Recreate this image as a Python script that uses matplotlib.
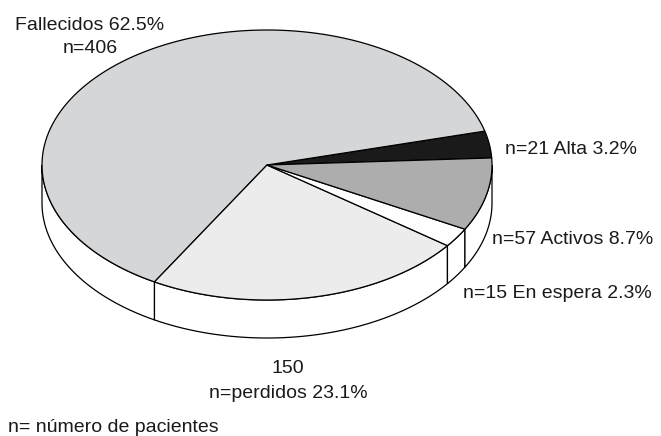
import numpy as np
import matplotlib.pyplot as plt
from matplotlib.patches import Polygon

plt.rcParams['font.family'] = ['Liberation Sans', 'DejaVu Sans']

# data
labels = ['Alta', 'Fallecidos', 'perdidos', 'En espera', 'Activos']
counts = [21, 406, 150, 15, 57]
percents = [3.2, 62.5, 23.1, 2.3, 8.7]
colors = ['#1a1a1a', '#d5d6d8', '#ececec', '#ffffff', '#adadad']

# ellipse geometry in pixel coordinates
CX, CY = 267, 165
RX, RY = 225, 135
DEPTH = 38
START = 3.0  # degrees, boundary Activos / Alta, counter-clockwise order


def arc(a0, a1, dy=0, n=120):
    t = np.radians(np.linspace(a0, a1, n))
    return np.column_stack([CX + RX * np.cos(t), CY - RY * np.sin(t) + dy])


fig = plt.figure(figsize=(6.61, 4.36), dpi=100)
ax = fig.add_axes([0, 0, 1, 1])
ax.set_xlim(0, 661)
ax.set_ylim(436, 0)
ax.axis('off')

# slice angles
angles = np.cumsum([0] + [p / sum(percents) * 360 for p in percents]) + START
bounds = list(zip(angles[:-1], angles[1:]))

# side wall, only the front half (180..360 deg) is visible
for a0, a1 in bounds:
    lo, hi = max(a0, 180), min(a1, 360)
    if hi <= lo:
        continue
    top = arc(lo, hi)
    bot = arc(hi, lo, dy=DEPTH)
    ax.add_patch(Polygon(np.vstack([top, bot]), closed=True, facecolor='white',
                         edgecolor='black', lw=0.9, zorder=1))

# top face
for (a0, a1), c in zip(bounds, colors):
    pts = np.vstack([[CX, CY], arc(a0, a1), [CX, CY]])
    ax.add_patch(Polygon(pts, closed=True, facecolor=c, edgecolor='black',
                         lw=0.9, joinstyle='miter', zorder=2))

fs = 14
col = '#1a1a1a'
ax.text(90, 30, 'Fallecidos %.1f%%' % percents[1], ha='center', va='baseline', fontsize=fs, color=col)
ax.text(90, 53, 'n=%d' % counts[1], ha='center', va='baseline', fontsize=fs, color=col)
ax.text(505, 154, 'n=%d Alta %.1f%%' % (counts[0], percents[0]), ha='left', va='baseline', fontsize=fs, color=col)
ax.text(492, 244, 'n=%d Activos %.1f%%' % (counts[4], percents[4]), ha='left', va='baseline', fontsize=fs, color=col)
ax.text(463, 298, 'n=%d En espera %.1f%%' % (counts[3], percents[3]), ha='left', va='baseline', fontsize=fs, color=col)
ax.text(288, 373, '%d' % counts[2], ha='center', va='baseline', fontsize=fs, color=col)
ax.text(288, 398, 'n=perdidos %.1f%%' % percents[2], ha='center', va='baseline', fontsize=fs, color=col)
ax.text(8, 432, 'n= número de pacientes', ha='left', va='baseline', fontsize=fs, color=col)

fig.savefig('out.png', dpi=100)
